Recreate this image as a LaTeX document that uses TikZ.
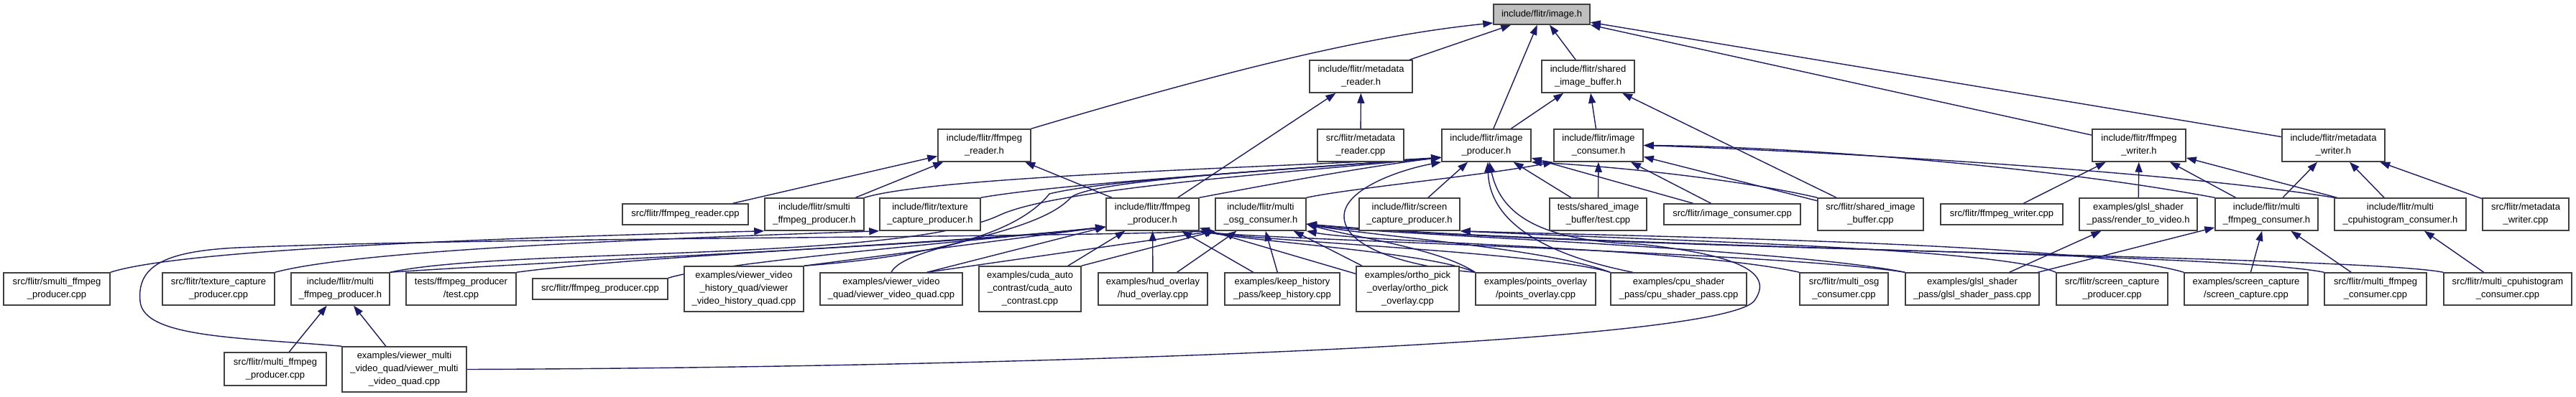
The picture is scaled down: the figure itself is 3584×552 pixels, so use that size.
\documentclass[tikz,border=0pt]{standalone}
\usepackage{fontspec}
\setmainfont{Liberation Sans}
\usetikzlibrary{arrows.meta}
\definecolor{navy}{HTML}{191970}
\definecolor{boxgray}{HTML}{404040}
\definecolor{topfill}{HTML}{BFBFBF}
\pgfdeclarelayer{bg}
\pgfsetlayers{bg,main}
\begin{document}
\begin{tikzpicture}[x=1pt,y=-1pt,
  box/.style={draw=boxgray, line width=1.5pt, fill=white, inner sep=0pt, align=center,
    font=\fontsize{13}{18}\selectfont, minimum height=45pt},
  one/.style={minimum height=29pt},
  three/.style={minimum height=63pt},
  edge/.style={draw=navy, line width=1.4pt, -{Triangle[length=14pt,width=10pt]}}]
\useasboundingbox (0,0) rectangle (3584,552);
% row 1
\node[box, fill=topfill, minimum width=134pt, minimum height=28pt] (img) at (2145,20) {include/flitr/image.h};
% row 2
\node[box, minimum width=143pt] (mrh) at (1893.5,106.5) {include/flitr/metadata\\\_reader.h};
\node[box, minimum width=129pt] (sibh) at (2209.5,106.5) {include/flitr/shared\\\_image\_buffer.h};
% row 3
\node[box, minimum width=129pt] (frh) at (1369.5,202.5) {include/flitr/ffmpeg\\\_reader.h};
\node[box, minimum width=120pt] (mrcpp) at (1893,202.5) {src/flitr/metadata\\\_reader.cpp};
\node[box, minimum width=124pt] (iph) at (2068,202.5) {include/flitr/image\\\_producer.h};
\node[box, minimum width=124pt] (ich) at (2224,202.5) {include/flitr/image\\\_consumer.h};
\node[box, minimum width=130pt] (fwh) at (2976,202.5) {include/flitr/ffmpeg\\\_writer.h};
\node[box, minimum width=143pt] (mwh) at (3246.5,202.5) {include/flitr/metadata\\\_writer.h};
% row 4
\node[box, one, minimum width=175pt] (frcpp) at (953.5,298.5) {src/flitr/ffmpeg\_reader.cpp};
\node[box, minimum width=138pt] (smh) at (1133,298.5) {include/flitr/smulti\\\_ffmpeg\_producer.h};
\node[box, minimum width=140pt] (tch) at (1294,298.5) {include/flitr/texture\\\_capture\_producer.h};
\node[box, minimum width=129pt] (fph) at (1603.5,298.5) {include/flitr/ffmpeg\\\_producer.h};
\node[box, minimum width=126pt] (moh) at (1754,298.5) {include/flitr/multi\\\_osg\_consumer.h};
\node[box, minimum width=140pt] (sch) at (1961,298.5) {include/flitr/screen\\\_capture\_producer.h};
\node[box, minimum width=135pt] (sibt) at (2223.5,298.5) {tests/shared\_image\\\_buffer/test.cpp};
\node[box, one, minimum width=190pt] (iccpp) at (2410,298.5) {src/flitr/image\_consumer.cpp};
\node[box, minimum width=147pt] (sibcpp) at (2602.5,298.5) {src/flitr/shared\_image\\\_buffer.cpp};
\node[box, one, minimum width=170pt] (fwcpp) at (2785,298.5) {src/flitr/ffmpeg\_writer.cpp};
\node[box, minimum width=164pt] (rtv) at (2975,298.5) {examples/glsl\_shader\\\_pass/render\_to\_video.h};
\node[box, minimum width=143pt] (mfch) at (3153.5,298.5) {include/flitr/multi\\\_ffmpeg\_consumer.h};
\node[box, minimum width=183pt] (mchh) at (3339.5,298.5) {include/flitr/multi\\\_cpuhistogram\_consumer.h};
\node[box, minimum width=120pt] (mwcpp) at (3514,298.5) {src/flitr/metadata\\\_writer.cpp};
% row 5
\node[box, minimum width=148pt] (smcpp) at (79,402.5) {src/flitr/smulti\_ffmpeg\\\_producer.cpp};
\node[box, minimum width=156pt] (tccpp) at (304,402.5) {src/flitr/texture\_capture\\\_producer.cpp};
\node[box, minimum width=137pt] (mfph) at (473.5,402.5) {include/flitr/multi\\\_ffmpeg\_producer.h};
\node[box, minimum width=153pt] (fpt) at (641.5,402.5) {tests/ffmpeg\_producer\\/test.cpp};
\node[box, one, minimum width=188pt] (fpcpp) at (835,402.5) {src/flitr/ffmpeg\_producer.cpp};
\node[box, three, minimum width=166pt] (vvhq) at (1035,402.5) {examples/viewer\_video\\\_history\_quad/viewer\\\_video\_history\_quad.cpp};
\node[box, minimum width=198pt] (vvq) at (1240,402.5) {examples/viewer\_video\\\_quad/viewer\_video\_quad.cpp};
\node[box, three, minimum width=142pt] (cac) at (1433,402.5) {examples/cuda\_auto\\\_contrast/cuda\_auto\\\_contrast.cpp};
\node[box, minimum width=152pt] (hud) at (1604,402.5) {examples/hud\_overlay\\/hud\_overlay.cpp};
\node[box, minimum width=160pt] (kh) at (1784,402.5) {examples/keep\_history\\\_pass/keep\_history.cpp};
\node[box, three, minimum width=143pt] (opo) at (1958.5,402.5) {examples/ortho\_pick\\\_overlay/ortho\_pick\\\_overlay.cpp};
\node[box, minimum width=167pt] (po) at (2136.5,402.5) {examples/points\_overlay\\/points\_overlay.cpp};
\node[box, minimum width=189pt] (csp) at (2335.5,402.5) {examples/cpu\_shader\\\_pass/cpu\_shader\_pass.cpp};
\node[box, minimum width=123pt] (mocpp) at (2565.5,402.5) {src/flitr/multi\_osg\\\_consumer.cpp};
\node[box, minimum width=186pt] (gsp) at (2744,402.5) {examples/glsl\_shader\\\_pass/glsl\_shader\_pass.cpp};
\node[box, minimum width=155pt] (sccpp) at (2938.5,402.5) {src/flitr/screen\_capture\\\_producer.cpp};
\node[box, minimum width=172pt] (sc) at (3125,402.5) {examples/screen\_capture\\/screen\_capture.cpp};
\node[box, minimum width=142pt] (mfccpp) at (3305,402.5) {src/flitr/multi\_ffmpeg\\\_consumer.cpp};
\node[box, minimum width=178pt] (mchcpp) at (3489,402.5) {src/flitr/multi\_cpuhistogram\\\_consumer.cpp};
% row 6
\node[box, minimum width=142pt, minimum height=46pt] (mfpcpp) at (383,514) {src/flitr/multi\_ffmpeg\\\_producer.cpp};
\node[box, three, minimum width=173pt] (vmvq) at (562.5,514.5) {examples/viewer\_multi\\\_video\_quad/viewer\_multi\\\_video\_quad.cpp};

\begin{pgfonlayer}{bg}
\fill[white] (0,0) rectangle (3584,552);
% into image.h
\draw[edge] (frh.north east) .. controls (1700,100) and (1900,50) .. (img.190);
\draw[edge] (mrh) -- (img);
\draw[edge] (iph) -- (img);
\draw[edge] (sibh) -- (img);
\draw[edge] (fwh) -- (img);
\draw[edge] (mwh) -- (img);
% metadata_reader.h
\draw[edge] (mrcpp) -- (mrh);
\draw[edge] (fph) -- (mrh);
% shared_image_buffer.h
\draw[edge] (iph) -- (sibh);
\draw[edge] (ich) -- (sibh);
\draw[edge] (sibcpp) -- (sibh);
% ffmpeg_reader.h
\draw[edge] (frcpp) -- (frh);
\draw[edge] (smh) -- (frh);
\draw[edge] (fph) -- (frh);
% image_producer.h
\draw[edge] (smh.north east) .. controls (1300,245) and (1800,232) .. (iph.195);
\draw[edge] (tch.north east) .. controls (1480,255) and (1800,236) .. (iph.195);
\draw[edge] (fph.north east) .. controls (1760,258) and (1900,232) .. (iph.195);
\draw[edge] (sch) -- (iph);
\draw[edge] (sibt) -- (iph);
\draw[edge] (iccpp) -- (iph);
\draw[edge] (sibcpp.north west) .. controls (2420,250) and (2250,232) .. (iph.south east);
\draw[edge] (csp.160) .. controls (2150,355) and (2072,310) .. (iph.-85);
\draw[edge] (vmvq.east) .. controls (1400,512) and (2380,480) .. (2440,420) .. controls (2470,380) and (2420,355) .. (2280,340) .. controls (2120,335) and (2085,285) .. (iph.-80);
\draw[edge] (mfph.north east) .. controls (700,345) and (1250,365) .. (1390,300) .. controls (1470,262) and (1800,240) .. (iph.195);
\draw[edge] (vvhq.north east) .. controls (1320,355) and (1420,320) .. (1460,270) .. controls (1540,250) and (1800,236) .. (iph.195);
\draw[edge] (vvq.north) .. controls (1260,340) and (1440,330) .. (1490,275) .. controls (1520,250) and (1800,236) .. (iph.195);
\draw[edge] (po.north west) .. controls (1960,372) and (1868,345) .. (1870,300) .. controls (1872,262) and (1950,236) .. (iph.south west);
% image_consumer.h
\draw[edge] (moh.north east) .. controls (1880,262) and (2060,245) .. (ich.south west);
\draw[edge] (sibt) -- (ich);
\draw[edge] (iccpp) -- (ich);
\draw[edge] (sibcpp) -- (ich);
\draw[edge] (mfch.north west) .. controls (2850,232) and (2500,204) .. (ich.east);
\draw[edge] (mchh.north west) .. controls (3020,238) and (2520,210) .. (ich.east);
% ffmpeg_writer.h
\draw[edge] (fwcpp) -- (fwh);
\draw[edge] (rtv) -- (fwh);
\draw[edge] (mfch) -- (fwh);
\draw[edge] (mchh) -- (fwh);
% metadata_writer.h
\draw[edge] (mfch) -- (mwh);
\draw[edge] (mchh) -- (mwh);
\draw[edge] (mwcpp) -- (mwh);
% ffmpeg_producer.h
\draw[edge] (mfph.north east) .. controls (800,362) and (1350,340) .. (fph.195);
\draw[edge] (fpt.north east) .. controls (900,355) and (1350,338) .. (fph.195);
\draw[edge] (fpcpp.north east) .. controls (1000,365) and (1350,336) .. (fph.195);
\draw[edge] (vvhq.north east) -- (fph.195);
\draw[edge] (vvq.25) -- (fph.195);
\draw[edge] (cac) -- (fph);
\draw[edge] (hud) -- (fph);
\draw[edge] (kh) -- (fph);
\draw[edge] (opo) -- (fph);
\draw[edge] (po.north west) .. controls (1990,352) and (1760,338) .. (fph.south east);
\draw[edge] (csp.north west) .. controls (2150,352) and (1760,336) .. (fph.south east);
\draw[edge] (gsp.north west) .. controls (2480,352) and (1760,334) .. (fph.south east);
% multi_osg_consumer.h
\draw[edge] (mocpp.north west) .. controls (2350,345) and (1900,338) .. (moh.south east);
\draw[edge] (vvq.25) -- (moh.south west);
\draw[edge] (cac.north east) -- (moh.south west);
\draw[edge] (hud) -- (moh);
\draw[edge] (kh) -- (moh);
\draw[edge] (opo) -- (moh);
\draw[edge] (po.north west) .. controls (2000,345) and (1880,330) .. (moh.-12);
\draw[edge] (csp.north west) .. controls (2150,345) and (1900,328) .. (moh.-12);
\draw[edge] (gsp.north west) .. controls (2480,345) and (1900,326) .. (moh.-12);
\draw[edge] (mfccpp.north west) .. controls (3100,352) and (2200,345) .. (moh.-12);
\draw[edge] (mchcpp.north west) .. controls (3280,356) and (2200,348) .. (moh.-12);
\draw[edge] (vmvq.north west) .. controls (330,470) and (200,470) .. (195,420) .. controls (190,370) and (230,350) .. (330,345) .. controls (700,330) and (1400,332) .. (moh.south west);
% screen_capture_producer.h
\draw[edge] (sccpp.north west) .. controls (2780,345) and (2300,335) .. (sch.south east);
\draw[edge] (sc.north west) .. controls (2900,338) and (2300,330) .. (sch.south east);
% smulti / texture
\draw[edge] (smcpp.north east) .. controls (260,345) and (750,330) .. (smh.south west);
\draw[edge] (tccpp.north east) .. controls (500,348) and (900,333) .. (tch.south west);
% multi_ffmpeg_producer.h
\draw[edge] (mfpcpp) -- (mfph);
\draw[edge] (vmvq) -- (mfph);
% multi_ffmpeg_consumer.h
\draw[edge] (mfccpp) -- (mfch);
\draw[edge] (sc) -- (mfch);
\draw[edge] (gsp) -- (mfch);
% render_to_video.h
\draw[edge] (gsp) -- (rtv);
% multi_cpuhistogram_consumer.h
\draw[edge] (mchcpp) -- (mchh);
\end{pgfonlayer}
\end{tikzpicture}
\end{document}
